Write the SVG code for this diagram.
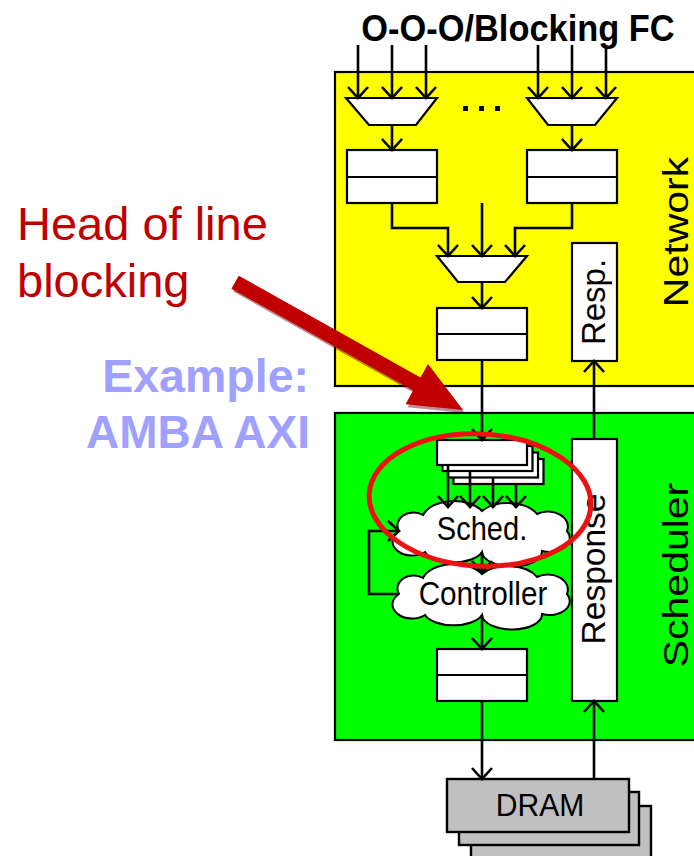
<svg xmlns="http://www.w3.org/2000/svg" width="694" height="856" viewBox="0 0 694 856">
<style>
.t{font-family:"Liberation Sans",Arial,sans-serif;fill:#000}
.box{fill:#fff;stroke:#000;stroke-width:2.2}
.ln{fill:none;stroke:#000;stroke-width:2}
.arr{fill:none;stroke:#000;stroke-width:2.6;marker-end:url(#ah)}
.dram{fill:#c0c0c0;stroke:#000;stroke-width:2.4}
.red{font-family:"Liberation Sans",Arial,sans-serif;fill:#c00000}
.blue{font-family:"Liberation Sans",Arial,sans-serif;fill:#a0a0ff;font-weight:bold}
</style>
<defs>
<marker id="ah" markerUnits="userSpaceOnUse" viewBox="-15 -15 30 30" markerWidth="30" markerHeight="30" refX="0" refY="0" orient="auto" overflow="visible">
<path d="M-11,-10 L0,0 L-11,10" fill="none" stroke="#000" stroke-width="2.6"/>
</marker>
<path id="cloud" d="M399,0 A16,13 0 0 1 423,-16 A32,19 0 0 1 482,-20 A32,19 0 0 1 537,-17 A20,15 0 0 1 567,0 A20,14 0 0 1 542,20 A30,15 0 0 1 482,21 A30,15 0 0 1 425,21 A18,13 0 0 1 399,0 Z"/>
</defs>

<g id="network">
<rect x="335" y="72" width="400" height="314" fill="#ffff00" stroke="#000" stroke-width="2.2"/>
<text class="t" font-size="41" text-anchor="middle" transform="translate(688,232) rotate(-90) scale(1,0.86)">Network</text>
</g>
<g id="scheduler">
<rect x="335" y="413" width="400" height="327" fill="#00ff00" stroke="#000" stroke-width="2.2"/>
<text class="t" font-size="41" text-anchor="middle" transform="translate(688,575) rotate(-90) scale(1,0.86)">Scheduler</text>
</g>

<text class="t" font-size="37" font-weight="bold" text-anchor="middle" transform="translate(518,41) scale(0.93,1)">O-O-O/Blocking FC</text>

<g id="mux1"><polygon class="box" points="346,98 437,98 416,125 369,125"/></g>
<g id="mux2"><polygon class="box" points="527,98 617,98 595,125 548,125"/></g>
<g id="dots" fill="#000"><rect x="463" y="106" width="5" height="5"/><rect x="479" y="106" width="5" height="5"/><rect x="495" y="106" width="5" height="5"/></g>
<g id="reg1"><rect class="box" x="347" y="150" width="90" height="53"/><line class="ln" x1="347" y1="177" x2="437" y2="177"/></g>
<g id="reg2"><rect class="box" x="527" y="150" width="90" height="53"/><line class="ln" x1="527" y1="177" x2="617" y2="177"/></g>
<g id="mux3"><polygon class="box" points="437,256 527,256 505,282 458,282"/></g>
<g id="reg3"><rect class="box" x="437" y="308" width="90" height="52"/><line class="ln" x1="437" y1="334" x2="527" y2="334"/></g>
<g id="resp"><rect class="box" x="572" y="243" width="45" height="118"/>
<text class="t" font-size="33" text-anchor="middle" transform="translate(605,302) rotate(-90)">Resp.</text></g>

<g id="queue">
<rect class="box" x="453.5" y="459" width="90" height="25"/>
<rect class="box" x="448" y="452.5" width="90" height="25"/>
<rect class="box" x="442.5" y="446" width="90" height="25"/>
<rect class="box" x="437" y="440" width="90" height="25"/>
</g>
<g id="sched"><use href="#cloud" transform="translate(0,531)" fill="#fff" stroke="#000" stroke-width="2"/>
<text class="t" font-size="33" text-anchor="middle" transform="translate(482,540) scale(0.88,1)">Sched.</text></g>
<g id="controller"><use href="#cloud" transform="translate(0,594)" fill="#fff" stroke="#000" stroke-width="2"/>
<text class="t" font-size="33" text-anchor="middle" transform="translate(483,605) scale(0.9,1)">Controller</text></g>
<g id="reg4"><rect class="box" x="437" y="649" width="90" height="52"/><line class="ln" x1="437" y1="675" x2="527" y2="675"/></g>
<g id="response"><rect class="box" x="572" y="439" width="45" height="262"/>
<text class="t" font-size="33.5" text-anchor="middle" transform="translate(605,569) rotate(-90)">Response</text></g>

<g id="dram">
<rect class="dram" x="471" y="806" width="180" height="60"/>
<rect class="dram" x="459" y="792" width="180" height="53"/>
<rect class="dram" x="447" y="779" width="182" height="53"/>
<text class="t" font-size="32" text-anchor="middle" transform="translate(540,816) scale(0.94,1)">DRAM</text>
</g>

<g id="connectors">
<path class="arr" d="M358,45 V98"/>
<path class="arr" d="M392,45 V98"/>
<path class="arr" d="M426,45 V98"/>
<path class="arr" d="M538,45 V98"/>
<path class="arr" d="M572,45 V98"/>
<path class="arr" d="M606,45 V98"/>
<path class="arr" d="M392,125 V150"/>
<path class="arr" d="M572,125 V150"/>
<path class="arr" d="M392,203 V228 H448 V256"/>
<path class="arr" d="M482,203 V256"/>
<path class="arr" d="M572,203 V228 H515 V256"/>
<path class="arr" d="M482,282 V308"/>
<path class="arr" d="M482,360 V440"/>
<path class="arr" d="M448,465 V507"/>
<path class="arr" d="M470,472 V507"/>
<path class="arr" d="M493,478 V507"/>
<path class="arr" d="M516,484 V507"/>
<path class="arr" d="M482,552 V572"/>
<path class="arr" d="M399,594 H369 V531 H399"/>
<path class="arr" d="M482,615 V649"/>
<path class="arr" d="M482,701 V779"/>
<path class="arr" d="M594,779 V701"/>
<path class="arr" d="M594,439 V361"/>
</g>

<g id="annotation">
<ellipse cx="480" cy="500" rx="111" ry="66" transform="rotate(3 480 500)" fill="none" stroke="#ee1111" stroke-width="5"/>
<polygon points="240.8,278.7 422.5,380.6 430,367 465,413 407.6,407.2 415.1,393.6 233.4,291.7" fill="#700000" opacity="0.45"/>
<polygon points="238.8,275.7 420.5,377.6 428,364 463,410 405.6,404.2 413.1,390.6 231.4,288.7" fill="#c00000"/>
<text class="red" font-size="47" x="17" y="240">Head of line</text>
<text class="red" font-size="47" x="17" y="297">blocking</text>
<text class="blue" font-size="46.5" text-anchor="end" x="309" y="392">Example:</text>
<text class="blue" font-size="46" text-anchor="end" x="310" y="448">AMBA AXI</text>
</g>
</svg>
